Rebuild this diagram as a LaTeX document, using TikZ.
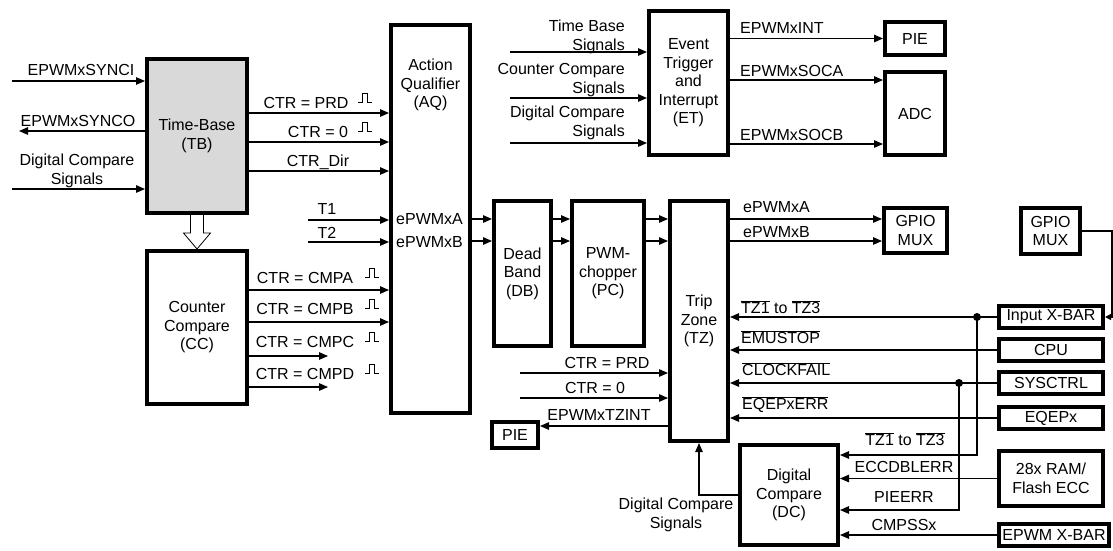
\documentclass[tikz,border=0pt]{standalone}
\usepackage{fontspec}
\setmainfont{Liberation Sans}
\usetikzlibrary{arrows.meta,calc}
\definecolor{tbfill}{HTML}{D9D9D9}
\newcommand{\ovl}[1]{$\overline{\mbox{#1}}$}

\begin{document}
\begin{tikzpicture}[
  x=1pt, y=-1pt,
  font=\fontsize{16}{18.5}\selectfont,
  blk/.style={draw, line width=4pt, align=center, inner sep=0pt},
  sig/.style={line width=1.2pt, -{Triangle[length=9pt,width=7.5pt]}},
  lbl/.style={inner sep=0pt, anchor=base},
  lblw/.style={inner sep=0pt, anchor=base west},
  two/.style={inner sep=0pt, align=center},
  jdot/.style={circle, fill, inner sep=0pt, minimum size=8pt},
  pulse/.pic={\draw[line width=0.9pt] (-7,4) -- (-3,4) -- (-3,-5) -- (2,-5) -- (2,4) -- (7,4);},
]
\useasboundingbox (0,0) rectangle (1113,550);

% ---------- blocks ----------
\node[blk, fill=tbfill, minimum width=100pt, minimum height=154pt] (tb) at (197,136) {Time-Base\\(TB)};
\node[blk, minimum width=100pt, minimum height=153pt] (cc) at (197,327.5) {Counter\\Compare\\(CC)};
\node[blk, minimum width=79pt, minimum height=388pt] (aq) at (430.5,219) {};
\node[two] (aqtxt) at (430.5,85) {Action\\Qualifier\\(AQ)};
\node[blk, minimum width=79pt, minimum height=144pt] (et) at (688.5,83) {Event\\Trigger\\and\\Interrupt\\(ET)};
\node[blk, minimum width=60pt, minimum height=33pt] (piet) at (915,38.5) {PIE};
\node[blk, minimum width=60pt, minimum height=83pt] (adc) at (915,113.5) {ADC};
\node[blk, minimum width=57pt, minimum height=145pt] (db) at (522.5,273.5) {Dead\\Band\\(DB)};
\node[blk, minimum width=72pt, minimum height=145pt] (pc) at (608,273.5) {PWM-\\chopper\\(PC)};
\node[blk, minimum width=58pt, minimum height=240pt] (tz) at (699,321) {Trip\\Zone\\(TZ)};
\node[blk, minimum width=63pt, minimum height=45pt] (muxa) at (915.5,230.5) {GPIO\\MUX};
\node[blk, minimum width=59pt, minimum height=46pt] (muxb) at (1050.5,231) {GPIO\\MUX};
\node[blk, minimum width=46pt, minimum height=26pt] (pieb) at (515,435) {PIE};
\node[blk, minimum width=98pt, minimum height=100pt] (dc) at (789,495) {Digital\\Compare\\(DC)};

% right column sources
\foreach \nm/\y/\txt in {ixbar/317/{Input X-BAR}, cpu/350/{CPU}, sysctrl/383/{SYSCTRL}, eqep/418/{EQEPx}}
  \node[blk, minimum width=104pt, minimum height=22pt] (\nm) at (1051,\y) {\txt};
\node[blk, minimum width=104pt, minimum height=55pt] (ram) at (1051,478.5) {28x RAM/\\Flash ECC};
\node[blk, minimum width=110pt, minimum height=22pt] (epxbar) at (1054,535) {EPWM X-BAR};

% ---------- time-base ----------
\coordinate (syncin) at (12,81);
\coordinate (syncout) at (19,131);
\coordinate (dcin) at (12,189);
\draw[sig] (syncin) -- (syncin -| tb.west);
\draw[sig] (syncout -| tb.west) -- (syncout);
\draw[sig] (dcin) -- (dcin -| tb.west);
\node[lbl] (lsynci) at (81,75.5) {EPWMxSYNCI};
\node[lbl] (lsynco) at (78,126.5) {EPWMxSYNCO};
\node[two] (ldcs) at (77,171) {Digital Compare\\Signals};

% hollow arrow TB -> CC
\draw[line width=0.8pt, fill=white] ($(tb.south)+(-6.5,0)$) -- ++(0,18) -- ++(-7,0) -- (cc.north)
  -- ($(tb.south)+(13.5,18)$) -- ++(-7,0) -- ++(0,-18);

% TB -> AQ: y, label x, label text, name
\foreach \y/\lx/\txt/\nm in {113/306/{CTR = PRD}/prd, 142/318/{CTR = 0}/zro, 171/318/{CTR\_Dir}/dir}
{
  \draw[sig] (tb.east |- 0,\y) -- (aq.west |- 0,\y);
  \node[lbl] (l\nm) at (\lx,\y-4.5) {\txt};
}
\pic at (365,98) {pulse};
\pic at (365,127) {pulse};

% T1 / T2
\coordinate (tone) at (308,220);
\coordinate (ttwo) at (308,242);
\draw[sig] (tone) -- (tone -| aq.west);
\draw[sig] (ttwo) -- (ttwo -| aq.west);
\node[lbl] (lt1) at (327,214) {T1};
\node[lbl] (lt2) at (327,238) {T2};
\node[lblw] (lpwma) at (396,224.5) {ePWMxA};
\node[lblw] (lpwmb) at (396,247.5) {ePWMxB};

% ---------- counter compare ----------
\draw[sig] (cc.east |- 0,290) -- (aq.west |- 0,290);
\draw[sig] (cc.east |- 0,322) -- (aq.west |- 0,322);
\coordinate (cmpcend) at (328,356);
\coordinate (cmpdend) at (328,387);
\draw[sig] (cc.east |- cmpcend) -- (cmpcend);
\draw[sig] (cc.east |- cmpdend) -- (cmpdend);
\foreach \y/\txt/\nm in {283.5/A/a, 314.5/B/b, 347.5/C/c, 379.5/D/d}
{
  \node[lbl] (lcmp\nm) at (305,\y) {CTR = CMP\txt};
  \pic at (372,\y-10.5) {pulse};
}

% ---------- event trigger ----------
\foreach \y in {52,98,143}
{
  \coordinate (etin\y) at (510,\y);
  \draw[sig] (etin\y) -- (etin\y -| et.west);
}
\node[two, anchor=east, align=right] (ltbs) at (625,37) {Time Base\\Signals};
\node[two, anchor=east, align=right] (lccs) at (625,80) {Counter Compare\\Signals};
\node[two, anchor=east, align=right] (ldcs2) at (625,123) {Digital Compare\\Signals};
\draw[sig] (et.east |- piet.west) -- (piet.west);
\draw[sig] (et.east |- 0,80) -- (adc.west |- 0,80);
\draw[sig] (et.east |- 0,144) -- (adc.west |- 0,144);
\node[lblw] (lint) at (740,33.5) {EPWMxINT};
\node[lblw] (lsoca) at (740,76.5) {EPWMxSOCA};
\node[lblw] (lsocb) at (740,140.5) {EPWMxSOCB};

% ---------- AQ -> DB -> PC -> TZ -> GPIO ----------
\foreach \y in {219,241}
{
  \draw[sig] (aq.east |- 0,\y) -- (db.west |- 0,\y);
  \draw[sig] (db.east |- 0,\y) -- (pc.west |- 0,\y);
  \draw[sig] (pc.east |- 0,\y) -- (tz.west |- 0,\y);
  \draw[sig] (tz.east |- 0,\y) -- (muxa.west |- 0,\y);
}
\node[lblw] (ltzpa) at (743,212.5) {ePWMxA};
\node[lblw] (ltzpb) at (743,237.5) {ePWMxB};

% GPIO MUX -> Input X-BAR
\coordinate (rtedge) at (1112,231);
\draw[line width=1.2pt, -{Triangle[length=6pt,width=6pt]}] (muxb.east) -- (rtedge) |- (ixbar.east);

% ---------- trip zone inputs ----------
\foreach \src in {ixbar,cpu,sysctrl,eqep}
  \draw[sig] (\src.west) -- (tz.east |- \src.west);
\node[lblw] (ltz) at (741,313.5) {\ovl{TZ1} to \ovl{TZ3}};
\node[lblw] (lemu) at (741,343.5) {\ovl{EMUSTOP}};
\node[lblw] (lclk) at (742,375.5) {\ovl{CLOCKFAIL}};
\node[lblw] (leqep) at (742,409.5) {\ovl{EQEPxERR}};

\coordinate (tzprd) at (520,373);
\coordinate (tzzro) at (520,398);
\draw[sig] (tzprd) -- (tzprd -| tz.west);
\draw[sig] (tzzro) -- (tzzro -| tz.west);
\draw[sig] (tz.west |- 0,426) -- (pieb.east |- 0,426);
\node[lbl] (ltprd) at (607,368.5) {CTR = PRD};
\node[lbl] (ltzro) at (595,393.5) {CTR = 0};
\node[lbl] (ltzint) at (599,420.5) {EPWMxTZINT};

% ---------- digital compare ----------
\node[jdot] (j1) at (977,317) {};
\node[jdot] (j2) at (959,383) {};
\draw[sig] (j1.center) |- (dc.east |- 0,455);
\draw[sig] (j2.center) |- (dc.east |- 0,510);
\draw[sig] (ram.west) -- (dc.east |- ram.west);
\draw[sig] (epxbar.west) -- (dc.east |- epxbar.west);
\node[lbl] (ldctz) at (905,445.5) {\ovl{TZ1} to \ovl{TZ3}};
\node[lbl] (lecc) at (904,472.5) {ECCDBLERR};
\node[lbl] (lpieerr) at (904,502.5) {PIEERR};
\node[lbl] (lcmpss) at (904,530.5) {CMPSSx};

\draw[sig] (dc.west |- 0,495) -| (tz.south);
\node[two] (ldcsig) at (676,515) {Digital Compare\\Signals};

\end{tikzpicture}
\end{document}
